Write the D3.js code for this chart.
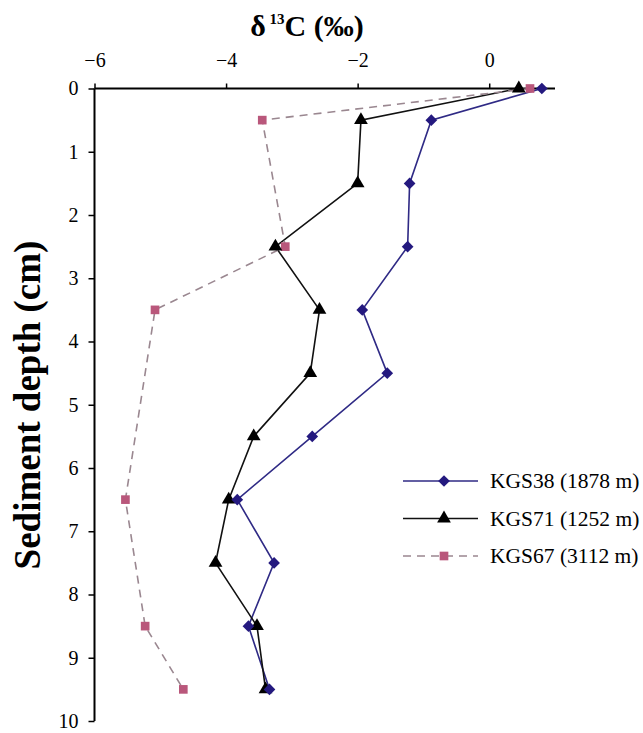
<!DOCTYPE html>
<html><head><meta charset="utf-8">
<script src="https://cdn.jsdelivr.net/npm/d3@7"></script>
<style>body{margin:0;background:#fff}svg{display:block}</style>
</head><body>
<script>
const xTicks = [-6, -4, -2, 0];
const yTicks = [0,1,2,3,4,5,6,7,8,9,10];
const depth38 = [0, 0.5, 1.5, 2.5, 3.5, 4.5, 5.5, 6.5, 7.5, 8.5, 9.5];
const kgs38 = [0.8, -0.88, -1.21, -1.24, -1.93, -1.55, -2.69, -3.83, -3.27, -3.66, -3.34];
const depth71 = [0, 0.5, 1.5, 2.5, 3.5, 4.5, 5.5, 6.5, 7.5, 8.5, 9.5];
const kgs71 = [0.45, -1.95, -2.0, -3.25, -2.58, -2.72, -3.58, -3.96, -4.16, -3.53, -3.40];
const depth67 = [0, 0.5, 2.5, 3.5, 6.5, 8.5, 9.5];
const kgs67 = [0.62, -3.45, -3.10, -5.08, -5.53, -5.23, -4.65];
const seriesNames = ["KGS38 (1878 m)", "KGS71 (1252 m)", "KGS67 (3112 m)"];

const FONT = "'Liberation Serif', 'Times New Roman', Times, 'DejaVu Serif', serif";
const W = 643, H = 733;
const svg = d3.select("body").append("svg").attr("width", W).attr("height", H);
const x = d3.scaleLinear().domain([-6, 1]).range([94.5, 555]);
const y = d3.scaleLinear().domain([0, 10]).range([88.5, 721]);

const diamond = {draw(ctx, size){ const r = Math.sqrt(size)/2*1.2; ctx.moveTo(0,-r); ctx.lineTo(r,0); ctx.lineTo(0,r); ctx.lineTo(-r,0); ctx.closePath(); }};

const series = [
  {name: seriesNames[0], xs: kgs38, ds: depth38, line: "#2f2a85", fill: "#24197f", sym: diamond, size: 95, dash: null},
  {name: seriesNames[1], xs: kgs71, ds: depth71, line: "#111", fill: "#000", sym: d3.symbolTriangle, size: 82, dash: null},
  {name: seriesNames[2], xs: kgs67, ds: depth67, line: "#9a8790", fill: "#b9577b", sym: d3.symbolSquare, size: 75, dash: "8,6"}
];

// axes
const xAxis = d3.axisTop(x).tickValues(xTicks).tickSize(5).tickFormat(d3.format("d"));
const gx = svg.append("g").attr("transform", `translate(0,${y(0)})`).call(xAxis).attr("font-family", FONT);
gx.select(".domain").attr("stroke", "#000").attr("stroke-width", 2).attr("d", `M${x(-6)},0H${x(1)}`);
gx.selectAll(".tick line").attr("stroke", "#000").attr("stroke-width", 1.5);
gx.selectAll(".tick text").attr("font-size", 20).attr("fill", "#000").attr("y", -22).style("font-family", FONT);

const yAxis = d3.axisLeft(y).tickValues(yTicks).tickSize(6).tickFormat(d3.format("d"));
const gy = svg.append("g").attr("transform", `translate(${x(-6)},0)`).call(yAxis).attr("font-family", FONT);
gy.select(".domain").attr("stroke", "#000").attr("stroke-width", 2).attr("d", `M0,${y(0)}V${y(10)}`);
gy.selectAll(".tick line").attr("stroke", "#000").attr("stroke-width", 1.5);
gy.selectAll(".tick text").attr("font-size", 20).attr("fill", "#000").attr("x", -16).style("font-family", FONT);

// lines
const line = d3.line().x(d => x(d[0])).y(d => y(d[1]));
series.forEach(s => {
  const pts = s.xs.map((v, i) => [v, s.ds[i]]);
  svg.append("path").datum(pts).attr("d", line).attr("fill", "none")
    .attr("stroke", s.line).attr("stroke-width", 1.6).attr("stroke-dasharray", s.dash);
});
series.slice().reverse().forEach(s => {
  const pts = s.xs.map((v, i) => [v, s.ds[i]]);
  svg.append("g").selectAll("path").data(pts).join("path")
    .attr("transform", d => `translate(${x(d[0])},${y(d[1])})`)
    .attr("d", d3.symbol(s.sym, s.size)).attr("fill", s.fill);
});

// title
const t = svg.append("text").attr("x", 307).attr("y", 36).attr("text-anchor", "middle")
  .attr("font-size", 30).attr("font-weight", "bold").style("font-family", FONT);
t.append("tspan").text("δ");
t.append("tspan").attr("font-size", 15).attr("dy", -12).text(" 13");
t.append("tspan").attr("dy", 12).text("C (‰)");

svg.append("text").attr("transform", "translate(40,405) rotate(-90)").attr("text-anchor", "middle")
  .attr("font-size", 37).attr("font-weight", "bold").style("font-family", FONT).text("Sediment depth (cm)");

// legend
const lg = svg.append("g");
series.forEach((s, i) => {
  const yy = 481 + i * 37.5;
  lg.append("line").attr("x1", 403).attr("x2", 478).attr("y1", yy).attr("y2", yy)
    .attr("stroke", s.line).attr("stroke-width", 1.6).attr("stroke-dasharray", s.dash);
  lg.append("path").attr("transform", `translate(444,${yy})`).attr("d", d3.symbol(s.sym, s.size)).attr("fill", s.fill);
  lg.append("text").attr("x", 490).attr("y", yy + 7).attr("font-size", 21.5).style("font-family", FONT).text(s.name);
});
</script>
</body></html>
